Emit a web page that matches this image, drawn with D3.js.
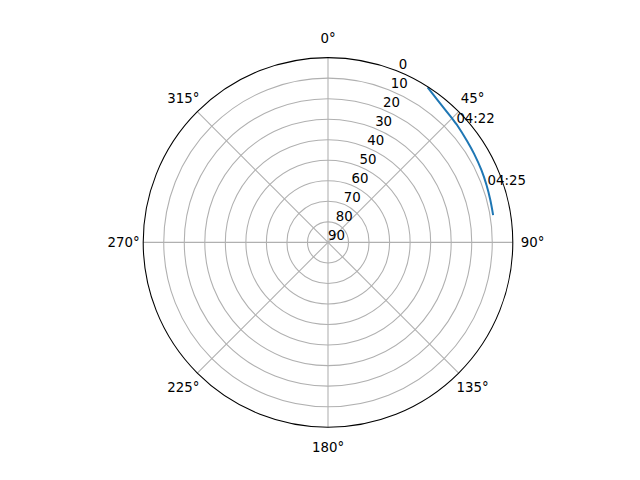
<!DOCTYPE html>
<html>
<head>
<meta charset="utf-8">
<script src="https://cdn.jsdelivr.net/npm/d3@7"></script>
<style>
html,body{margin:0;padding:0;background:#fff;}
svg{display:block;font-family:"DejaVu Sans",sans-serif;}
</style>
</head>
<body>
<svg id="chart" width="640" height="480"></svg>
<script>
// Data: sun path (azimuth in degrees, elevation in degrees)
const azimuth   = [33.0, 38.8, 44.1, 46.8, 48.0, 54.0, 58.8, 64.8, 70.1, 75.3, 80.3];
const elevation = [0.4,  3.0,  4.4,  4.9,  5.1,  6.2,  6.8,  7.4,  7.9,  8.3,  8.5];
const annotTimes = ["04:22", "04:25"];
const annotAz    = [46.8, 70.1];
const annotEl    = [4.9, 7.9];
const radialTicks = [0, 10, 20, 30, 40, 50, 60, 70, 80, 90];
const thetaTicks  = [0, 45, 90, 135, 180, 225, 270, 315];
const thetaLabels = ["0°", "45°", "90°", "135°", "180°", "225°", "270°", "315°"];

const svg = d3.select("#chart");
const cx = 328, cy = 242.4, R = 184.8;
const g = svg.append("g").attr("transform", `translate(${cx},${cy})`);

const r = d3.scaleLinear().domain([90, 0]).range([0, R]);
const toRad = d => d * Math.PI / 180;
const px = (az, el) => r(el) * Math.sin(toRad(az));
const py = (az, el) => -r(el) * Math.cos(toRad(az));

// background
g.append("circle").attr("r", R).attr("fill", "#fff");

// grid rings
g.selectAll("circle.ring").data(radialTicks.filter(d => d !== 90 && d !== 0))
  .join("circle").attr("class", "ring")
  .attr("r", d => r(d)).attr("fill", "none")
  .attr("stroke", "#b0b0b0").attr("stroke-width", 1.07);

// spokes
g.selectAll("line.spoke").data(thetaTicks).join("line").attr("class", "spoke")
  .attr("x1", 0).attr("y1", 0)
  .attr("x2", d => px(d, 0)).attr("y2", d => py(d, 0))
  .attr("stroke", "#b0b0b0").attr("stroke-width", 1.07);

// data line
const pts = azimuth.map((a, i) => [toRad(a), r(elevation[i])]);
g.append("path")
  .attr("d", d3.lineRadial().curve(d3.curveCatmullRom)(pts))
  .attr("fill", "none").attr("stroke", "#1f77b4").attr("stroke-width", 2)
  .attr("stroke-linecap", "square");

// spine
g.append("circle").attr("r", R).attr("fill", "none")
  .attr("stroke", "#000").attr("stroke-width", 1.07);

// theta labels
g.selectAll("text.theta").data(thetaTicks).join("text").attr("class", "theta")
  .attr("x", d => (R + 19.7) * Math.sin(toRad(d)))
  .attr("y", d => -(R + 19.7) * Math.cos(toRad(d)) + 4.9)
  .attr("text-anchor", "middle")
  .attr("font-size", "13.33px").attr("fill", "#000")
  .text((d, i) => thetaLabels[i]);

// radial labels at 22.5 deg
g.selectAll("text.rlab").data(radialTicks).join("text").attr("class", "rlab")
  .attr("x", d => px(22.5, d))
  .attr("y", d => py(22.5, d) - 2.8)
  .attr("text-anchor", "start")
  .attr("font-size", "13.33px").attr("fill", "#000")
  .text(d => d);

// annotations
g.selectAll("text.annot").data(annotTimes).join("text").attr("class", "annot")
  .attr("x", (d, i) => px(annotAz[i], annotEl[i]) + 1)
  .attr("y", (d, i) => py(annotAz[i], annotEl[i]))
  .attr("text-anchor", "start")
  .attr("font-size", "13.33px").attr("fill", "#000")
  .text(d => d);
</script>
</body>
</html>
